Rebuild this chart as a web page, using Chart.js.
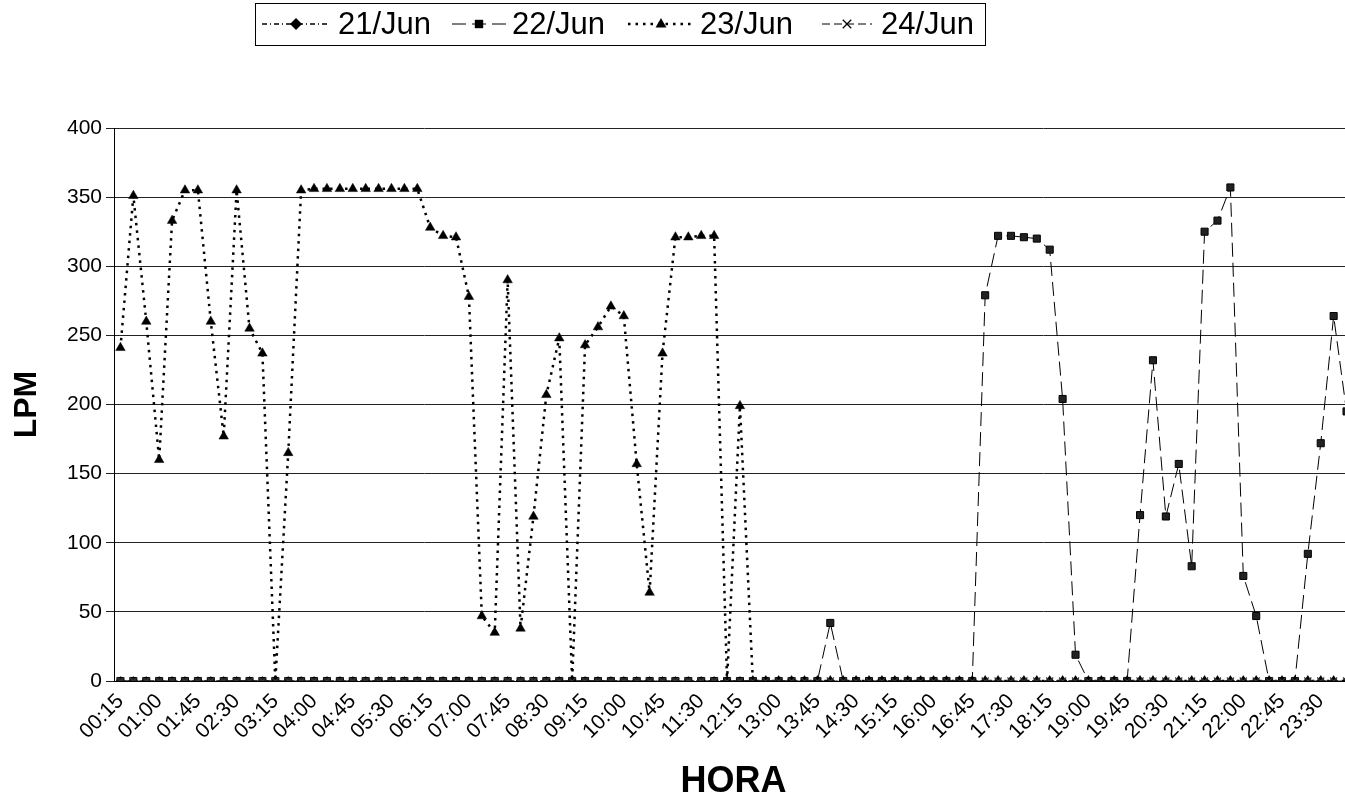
<!DOCTYPE html>
<html>
<head>
<meta charset="utf-8">
<script src="https://cdn.jsdelivr.net/npm/chart.js@4/dist/chart.umd.min.js"></script>
<style>
  html, body { margin: 0; padding: 0; background: #fff; overflow: hidden; }
  #wrap { width: 1360px; height: 807px; }
</style>
</head>
<body>
<div id="wrap"><canvas id="flow-chart" width="1360" height="807"></canvas></div>
<script>
// horas (cada 15 minutos)
var horas = ['00:15','00:30','00:45','01:00','01:15','01:30','01:45','02:00','02:15','02:30','02:45','03:00',
  '03:15','03:30','03:45','04:00','04:15','04:30','04:45','05:00','05:15','05:30','05:45','06:00',
  '06:15','06:30','06:45','07:00','07:15','07:30','07:45','08:00','08:15','08:30','08:45','09:00',
  '09:15','09:30','09:45','10:00','10:15','10:30','10:45','11:00','11:15','11:30','11:45','12:00',
  '12:15','12:30','12:45','13:00','13:15','13:30','13:45','14:00','14:15','14:30','14:45','15:00',
  '15:15','15:30','15:45','16:00','16:15','16:30','16:45','17:00','17:15','17:30','17:45','18:00',
  '18:15','18:30','18:45','19:00','19:15','19:30','19:45','20:00','20:15','20:30','20:45','21:00',
  '21:15','21:30','21:45','22:00','22:15','22:30','22:45','23:00','23:15','23:30','23:45','00:00'];

var jun21 = [0,0,0,0,0,0,0,0,0,0,0,0, 0,0,0,0,0,0,0,0,0,0,0,0,
  0,0,0,0,0,0,0,0,0,0,0,0, 0,0,0,0,0,0,0,0,0,0,0,0,
  0,0,0,0,0,0,0,0,0,0,0,0, 0,0,0,0,0,0,0,0,0,0,0,0,
  0,0,0,0,0,0,0,0,0,0,0,0, 0,0,0,0,0,0,0,0,0,0,0,0];

var jun22 = [0,0,0,0,0,0,0,0,0,0,0,0, 0,0,0,0,0,0,0,0,0,0,0,0,
  0,0,0,0,0,0,0,0,0,0,0,0, 0,0,0,0,0,0,0,0,0,0,0,0,
  0,0,0,0,0,0,0,42,0,0,0,0, 0,0,0,0,0,0,0,279,322,322,321,320,
  312,204,19,0,0,0,0,120,232,119,157,83, 325,333,357,76,47,0,0,0,92,172,264,195];

var jun23 = [241,351,260,160,333,355,355,260,177,355,255,237, 0,165,355,356,356,356,356,356,356,356,356,356,
  328,322,321,278,47,35,290,38,119,207,248,0, 243,256,271,264,157,64,237,321,321,322,322,0,
  199,0,0,0,0,0,0,0,0,0,0,0, 0,0,0,0,0,0,0,0,0,0,0,0,
  0,0,0,0,0,0,0,0,0,0,0,0, 0,0,0,0,0,0,0,0,0,0,0,0];

var jun24 = [0,0,0,0,0,0,0,0,0,0,0,0, 0,0,0,0,0,0,0,0,0,0,0,0,
  0,0,0,0,0,0,0,0,0,0,0,0, 0,0,0,0,0,0,0,0,0,0,0,0,
  0,0,0,0,0,0,0,0,0,0,0,0, 0,0,0,0,0,0,0,0,0,0,0,0,
  0,0,0,0,0,0,0,0,0,0,0,0, 0,0,0,0,0,0,0,0,0,0,0,0];

var fontFam = '"Liberation Sans", Arial, sans-serif';

// marcador simple para la leyenda
function drawMarker(ctx, style, x, y, r) {
    ctx.save();
    ctx.setLineDash([]);
    ctx.beginPath();
    if (style === 'rectRot') {
        ctx.moveTo(x, y - r); ctx.lineTo(x + r, y); ctx.lineTo(x, y + r); ctx.lineTo(x - r, y); ctx.closePath();
        ctx.fill();
    } else if (style === 'rect') {
        ctx.rect(x - r * 0.7, y - r * 0.7, r * 1.4, r * 1.4);
        ctx.fill();
    } else if (style === 'triangle') {
        ctx.moveTo(x, y - r); ctx.lineTo(x + r * 0.9, y + r * 0.6); ctx.lineTo(x - r * 0.9, y + r * 0.6); ctx.closePath();
        ctx.fill();
    } else {
        ctx.lineWidth = 1.3;
        ctx.moveTo(x - r * 0.7, y - r * 0.7); ctx.lineTo(x + r * 0.7, y + r * 0.7);
        ctx.moveTo(x + r * 0.7, y - r * 0.7); ctx.lineTo(x - r * 0.7, y + r * 0.7);
        ctx.stroke();
    }
    ctx.restore();
}

var boxLegend = {
    id: 'boxLegend',
    afterDraw: function(chart) {
        var ctx = chart.ctx;
        var lineX = [[262, 330], [452, 506], [628, 694], [822, 872]];
        var textX = [338, 512, 700, 881];
        var y = 24;
        ctx.save();
        ctx.strokeStyle = '#000';
        ctx.lineWidth = 1;
        ctx.strokeRect(255.5, 3.5, 730, 42);
        chart.data.datasets.forEach(function(ds, i) {
            ctx.strokeStyle = '#000';
            ctx.fillStyle = '#000';
            ctx.lineWidth = ds.borderWidth;
            ctx.setLineDash(ds.borderDash);
            ctx.beginPath();
            ctx.moveTo(lineX[i][0], y);
            ctx.lineTo(lineX[i][1], y);
            ctx.stroke();
            drawMarker(ctx, ds.pointStyle, (lineX[i][0] + lineX[i][1]) / 2, y, 6);
            ctx.font = '31px ' + fontFam;
            ctx.textBaseline = 'middle';
            ctx.textAlign = 'left';
            ctx.fillText(ds.label, textX[i], y + 1);
        });
        ctx.restore();
    }
};

var ctx = document.getElementById('flow-chart').getContext('2d');
var chart = new Chart(ctx, {
    type: 'line',
    data: {
        labels: horas,
        datasets: [{
            label: '21/Jun',
            data: jun21,
            borderColor: '#000',
            backgroundColor: '#444',
            borderWidth: 1.5,
            borderDash: [5, 3, 1, 3],
            pointStyle: 'rectRot',
            pointRadius: 4.5,
            pointBorderWidth: 0.5,
            order: 2
        }, {
            label: '22/Jun',
            data: jun22,
            borderColor: '#000',
            backgroundColor: '#222',
            borderWidth: 1,
            borderDash: [14, 6],
            pointStyle: 'rect',
            pointRadius: 5,
            pointBorderWidth: 1,
            pointBorderColor: '#000',
            order: 1
        }, {
            label: '23/Jun',
            data: jun23,
            borderColor: '#000',
            backgroundColor: '#000',
            borderWidth: 2.5,
            borderDash: [2.5, 5],
            pointStyle: 'triangle',
            pointRadius: 5.5,
            pointBorderWidth: 0.5,
            order: 0
        }, {
            label: '24/Jun',
            data: jun24,
            borderColor: '#333',
            backgroundColor: '#333',
            borderWidth: 1,
            borderDash: [8, 4],
            pointStyle: 'crossRot',
            pointRadius: 5,
            pointBorderWidth: 1.2,
            order: -1
        }]
    },
    options: {
        responsive: false,
        animation: false,
        devicePixelRatio: 1,
        layout: { padding: { top: 128, right: 7, left: 0, bottom: 0 } },
        plugins: {
            legend: { display: false },
            tooltip: { enabled: false }
        },
        elements: { line: { tension: 0 } },
        scales: {
            x: {
                offset: true,
                grid: { display: false, drawTicks: false },
                border: { display: true, color: '#000', width: 1 },
                ticks: {
                    autoSkip: false,
                    minRotation: 45,
                    maxRotation: 45,
                    padding: 8,
                    color: '#000',
                    font: { family: fontFam, size: 21 },
                    callback: function(val, index) {
                        return index % 3 === 0 ? this.getLabelForValue(val) : '';
                    }
                },
                title: {
                    display: true,
                    text: 'HORA',
                    color: '#000',
                    font: { family: fontFam, size: 36, weight: 'bold' },
                    padding: { top: 0, bottom: 3 }
                },
                afterFit: function(scale) {
                    scale.height = 126;
                    scale.paddingLeft = 0;
                    scale.paddingRight = 0;
                }
            },
            y: {
                min: 0,
                max: 400,
                grid: { color: '#222', lineWidth: 1, tickLength: 8 },
                border: { display: true, color: '#000', width: 1 },
                ticks: {
                    stepSize: 50,
                    padding: 4,
                    color: '#000',
                    font: { family: fontFam, size: 21 }
                },
                title: {
                    display: true,
                    text: 'LPM',
                    color: '#000',
                    font: { family: fontFam, size: 32, weight: 'bold' },
                    padding: { top: 8, bottom: 0 }
                },
                afterFit: function(scale) { scale.width = 114; }
            }
        }
    },
    plugins: [boxLegend]
});
</script>
</body>
</html>
